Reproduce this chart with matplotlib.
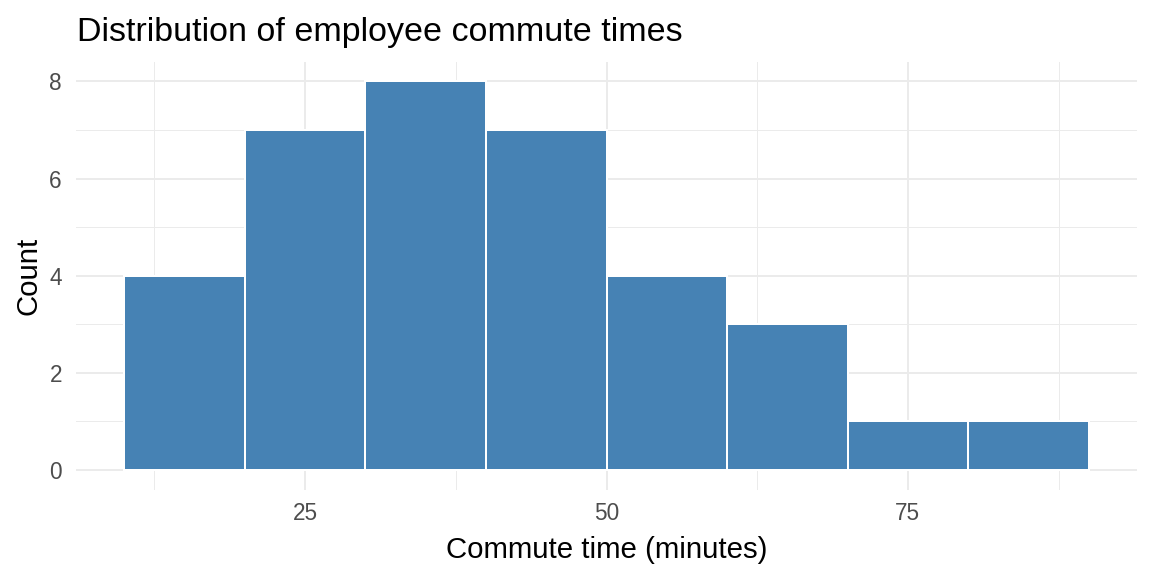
import matplotlib
matplotlib.use("Agg")
import matplotlib.pyplot as plt
from matplotlib.ticker import MultipleLocator

plt.rcParams['font.family'] = ['Liberation Sans', 'DejaVu Sans']

# histogram bins (minutes) and counts
bordas = [10, 20, 30, 40, 50, 60, 70, 80, 90]
contagens = [4, 7, 8, 7, 4, 3, 1, 1]

fig = plt.figure(figsize=(8, 4), dpi=144)
ax = fig.add_axes([76 / 1152, 1 - 489.5 / 576, (1137 - 76) / 1152, (489.5 - 62) / 576])

esquerdas = bordas[:-1]
larguras = [b - a for a, b in zip(bordas[:-1], bordas[1:])]
ax.bar(esquerdas, contagens, width=larguras, align="edge",
       color="#4682B4", edgecolor="white", linewidth=1.0, zorder=3)

ax.set_xlim(6, 94)
ax.set_ylim(-0.4, 8.4)
ax.xaxis.set_major_locator(MultipleLocator(25))
ax.xaxis.set_minor_locator(MultipleLocator(12.5))
ax.yaxis.set_major_locator(MultipleLocator(2))
ax.yaxis.set_minor_locator(MultipleLocator(1))

ax.grid(True, which="major", color="#EBEBEB", linewidth=1.0, zorder=0)
ax.grid(True, which="minor", color="#EBEBEB", linewidth=0.5, zorder=0)
for s in ax.spines.values():
    s.set_visible(False)
ax.tick_params(which="both", length=0)
ax.tick_params(axis="both", labelsize=11.3, labelcolor="#4D4D4D")
ax.tick_params(axis="y", pad=7)
ax.tick_params(axis="x", pad=6)

ax.set_xlabel("Commute time (minutes)", fontsize=14.7, labelpad=5.5)
ax.set_ylabel("Count", fontsize=14.7, labelpad=3.5)
ax.set_title("Distribution of employee commute times", fontsize=17,
             loc="left", pad=10.5, x=0.0013)

fig.savefig("out.png", dpi=144)
